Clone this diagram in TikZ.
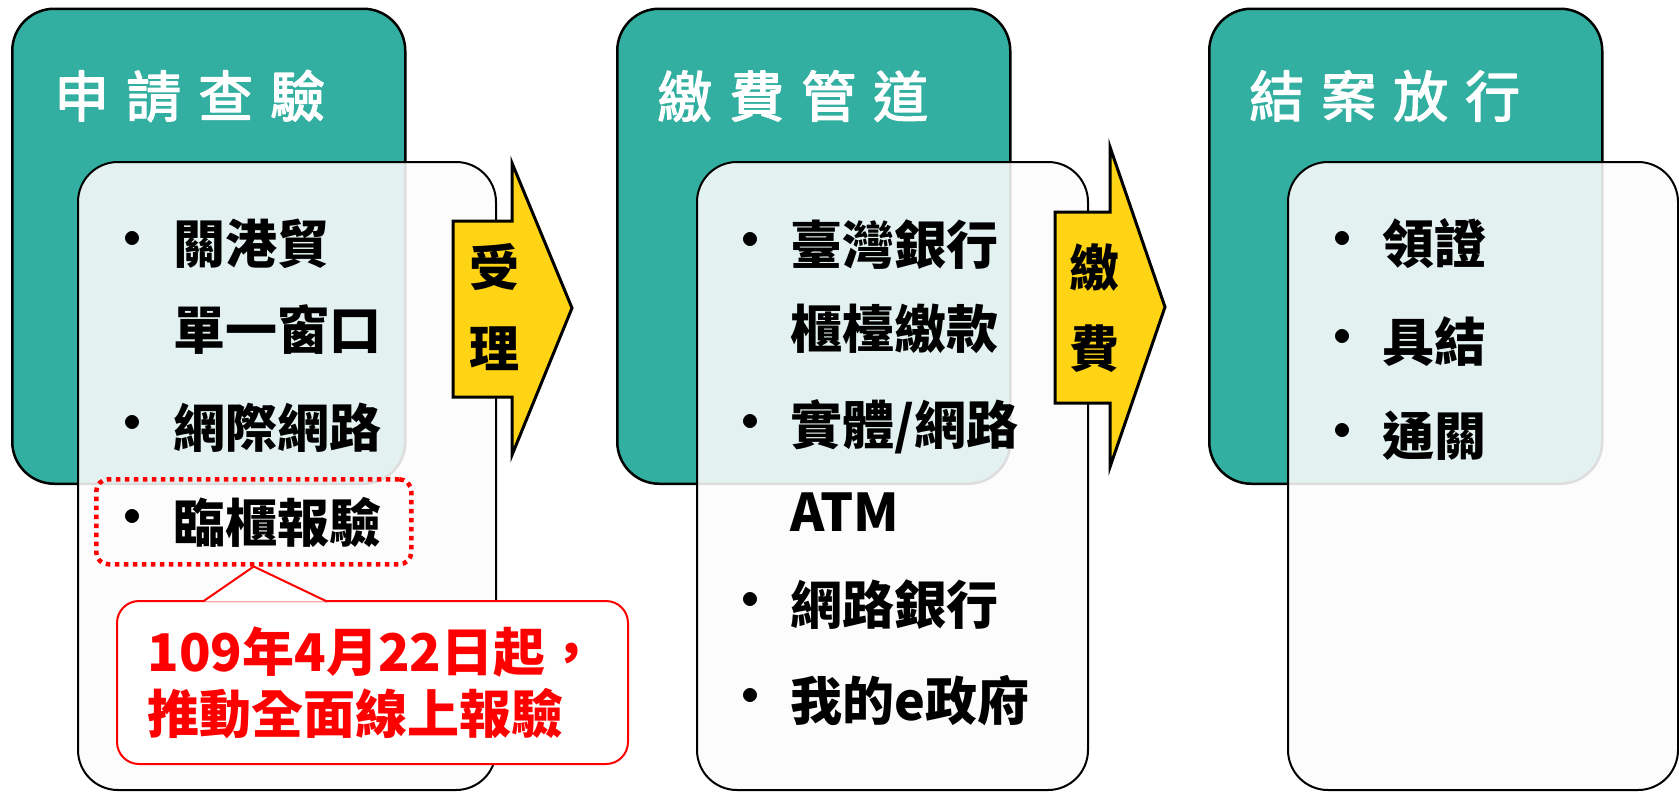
\documentclass[tikz,border=0pt]{standalone}
\usepackage{fontspec}
\setmainfont{Noto Sans CJK TC}
\newfontfamily\titlefont[FakeBold=2.5]{Noto Sans CJK TC}
\usetikzlibrary{positioning}

\definecolor{stagegreen}{RGB}{50,175,160}
\definecolor{flowgold}{RGB}{255,212,20}
\definecolor{paper}{RGB}{252,252,252}
\newcommand{\tgap}{\hspace{17pt}}

\begin{document}
\begin{tikzpicture}[x=1pt, y=-1pt, line join=round]
  \tikzstyle{stage}=[draw=black, line width=2.5pt, fill=stagegreen, rounded corners=42pt,
                     anchor=north west, minimum width=393pt, minimum height=475pt, inner sep=0pt]
  \tikzstyle{panel}=[draw=black, line width=2pt, fill=paper, fill opacity=0.88, rounded corners=40pt,
                     anchor=north west, minimum height=628pt, inner sep=0pt]
  \tikzstyle{title}=[text=white, font=\titlefont\fontsize{55}{60}\selectfont, anchor=west, inner sep=0pt]
  \tikzstyle{item}=[font=\fontsize{52}{60}\selectfont\bfseries, anchor=west, inner sep=0pt]
  \tikzstyle{dot}=[font=\fontsize{50}{60}\selectfont\bfseries, inner sep=0pt]
  \tikzstyle{flow}=[draw=black, line width=3pt, fill=flowgold, line join=miter]
  \tikzstyle{flowtext}=[font=\fontsize{50}{81}\selectfont\bfseries, align=center, inner sep=0pt]
  \tikzstyle{hilite}=[draw=red, line width=4.5pt, dash pattern=on 4.5pt off 4.5pt, rounded corners=12pt,
                      anchor=north west, minimum width=315pt, minimum height=85pt, inner sep=0pt]
  \tikzstyle{note}=[draw=red, line width=2pt, fill=white, rounded corners=22pt, text=red,
                    font=\fontsize{52}{62}\selectfont\bfseries, align=left,
                    anchor=north west, minimum width=511pt, minimum height=163pt, inner sep=0pt]

  \useasboundingbox (0,0) rectangle (1679,793);

  % stage 1
  \node[stage] (apply) at (11,7.5) {};
  \node[title] (applyt) at (54,96) {申\tgap 請\tgap 查\tgap 驗};
  \node[panel, minimum width=418pt] (applyp) at (77,161) {};

  % stage 2
  \node[stage] (pay) at (616,7.5) {};
  \node[title] (payt) at (657,96) {繳\tgap 費\tgap 管\tgap 道};
  \node[panel, minimum width=391pt] (payp) at (696,161) {};

  % stage 3
  \node[stage] (done) at (1208,7.5) {};
  \node[title] (donet) at (1249,96) {結\tgap 案\tgap 放\tgap 行};
  \node[panel, minimum width=390pt] (donep) at (1287,161) {};

  % items of stage 1
  \node[dot]  (d11) at (132,244) {•};
  \node[item] (i11) at (173,244) {關港貿};
  \node[item] (i12) at (173,330) {單一窗口};
  \node[dot]  (d12) at (132,428) {•};
  \node[item] (i13) at (173,428) {網際網路};
  \node[hilite] (hl) at (94,477) {};
  \node[dot]  (d13) at (132,522) {•};
  \node[item] (i14) at (173,522) {臨櫃報驗};

  % items of stage 2
  \node[dot]  (d21) at (750,245) {•};
  \node[item] (i21) at (790,245) {臺灣銀行};
  \node[item] (i22) at (790,329) {櫃檯繳款};
  \node[dot]  (d22) at (750,427) {•};
  \node[item] (i23) at (790,427) {實體/網路};
  \node[item] (i24) at (790,512) {ATM};
  \node[dot]  (d23) at (750,605) {•};
  \node[item] (i25) at (790,605) {網路銀行};
  \node[dot]  (d24) at (750,701) {•};
  \node[item] (i26) at (790,701) {我的e政府};

  % items of stage 3
  \node[dot]  (d31) at (1342,244) {•};
  \node[item] (i31) at (1382,244) {領證};
  \node[dot]  (d32) at (1342,342) {•};
  \node[item] (i32) at (1382,342) {具結};
  \node[dot]  (d33) at (1342,436) {•};
  \node[item] (i33) at (1382,436) {通關};

  % arrows between stages
  \draw[flow] (453,221) -- (512,221) -- (512,163) -- (572,308) -- (512,455) -- (512,397) -- (453,397) -- cycle;
  \node[flowtext] (accept) at (494,307) {受\\理};
  \draw[flow] (1055,212) -- (1110,212) -- (1110,147) -- (1165,307) -- (1110,467) -- (1110,403) -- (1055,403) -- cycle;
  \node[flowtext] (fee) at (1094,308) {繳\\費};

  % callout
  \node[note] (note) at (116,600) {109年4月22日起，\\推動全面線上報驗};
  \draw[red, line width=2pt, fill=white, line join=miter]
    ([xshift=87pt, yshift=-1.5pt]note.north west) -- (hl.south) -- ([xshift=211pt, yshift=-1.5pt]note.north west);
\end{tikzpicture}
\end{document}
